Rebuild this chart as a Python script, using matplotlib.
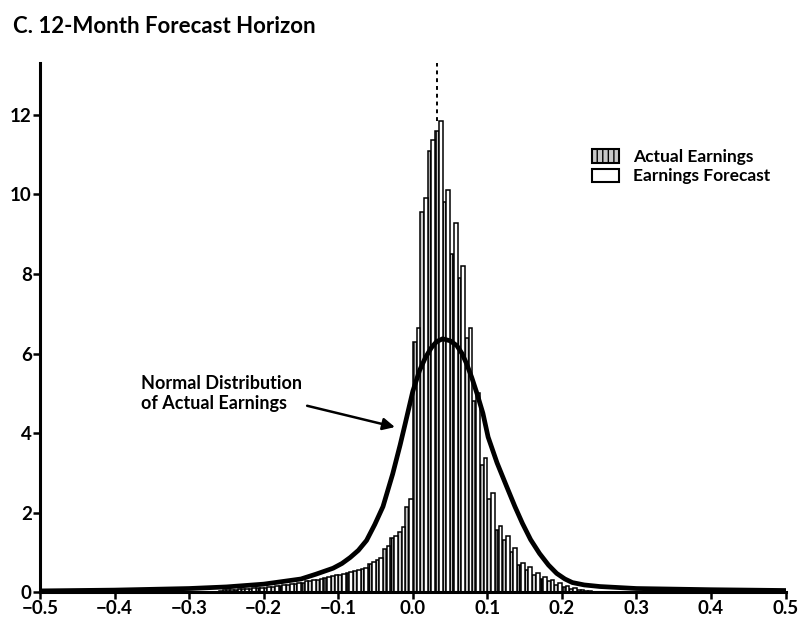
import numpy as np
import matplotlib.pyplot as plt
from matplotlib.patches import Patch

plt.rcParams['font.family'] = ['Lato', 'DejaVu Sans']

# histogram bins, width 0.01 (left edges)
bin_left = np.round(np.arange(-0.26, 0.235, 0.01), 2)

# bar heights
forecast = [0.05, 0.06, 0.07, 0.08, 0.10, 0.11, 0.12, 0.15, 0.17, 0.20,
            0.22, 0.27, 0.30, 0.33, 0.37, 0.42, 0.45, 0.50, 0.55, 0.60,
            0.75, 0.85, 1.15, 1.42, 1.63, 2.35, 6.65, 9.90, 11.37, 11.86,
            10.10, 9.27, 8.20, 6.65, 5.00, 3.37, 2.48, 1.67, 1.42, 1.10,
            0.72, 0.62, 0.47, 0.37, 0.30, 0.22, 0.15, 0.10, 0.06, 0.04]
actual = [0.04, 0.05, 0.06, 0.07, 0.08, 0.10, 0.11, 0.13, 0.15, 0.18,
          0.20, 0.24, 0.28, 0.31, 0.35, 0.40, 0.43, 0.47, 0.52, 0.58,
          0.70, 0.80, 1.08, 1.35, 1.50, 2.15, 6.30, 9.55, 11.10, 11.60,
          9.80, 8.50, 7.90, 6.40, 4.80, 3.20, 2.35, 1.55, 1.30, 1.00,
          0.68, 0.56, 0.43, 0.33, 0.27, 0.19, 0.13, 0.08, 0.05, 0.03]

# "normal distribution" curve
curve_x = [-0.5, -0.4, -0.3, -0.25, -0.2, -0.15, -0.13, -0.107, -0.095, -0.084,
           -0.073, -0.062, -0.051, -0.04, -0.027, -0.017, -0.01, -0.004, 0.0,
           0.009, 0.017, 0.025, 0.032, 0.04, 0.05, 0.059, 0.066, 0.072, 0.079,
           0.086, 0.094, 0.101, 0.113, 0.126, 0.137, 0.147, 0.158, 0.17, 0.182,
           0.193, 0.204, 0.214, 0.23, 0.251, 0.3, 0.4, 0.5]
curve_y = [0.03, 0.05, 0.09, 0.13, 0.20, 0.33, 0.45, 0.60, 0.72, 0.87,
           1.05, 1.30, 1.70, 2.15, 2.97, 3.70, 4.25, 4.73, 5.05,
           5.57, 5.90, 6.15, 6.30, 6.37, 6.32, 6.20, 6.00, 5.75, 5.40,
           5.00, 4.50, 3.90, 3.25, 2.65, 2.15, 1.73, 1.32, 0.97, 0.68,
           0.47, 0.33, 0.24, 0.18, 0.14, 0.09, 0.06, 0.04]

peak_x = 0.032
xticks = [-0.5, -0.4, -0.3, -0.2, -0.1, 0.0, 0.1, 0.2, 0.3, 0.4, 0.5]
yticks = [0, 2, 4, 6, 8, 10, 12]

fig = plt.figure(figsize=(8, 6.2), dpi=100)
ax = fig.add_axes([0.05, 0.045, 0.932, 0.853])

w = 0.005
ax.bar(bin_left + w / 2, actual, width=w, color='#c8c8c8', edgecolor='black',
       linewidth=1.1, hatch='|||', zorder=2)
ax.bar(bin_left + 1.5 * w, forecast, width=w, color='white', edgecolor='black',
       linewidth=1.1, zorder=2)

ax.plot(curve_x, curve_y, color='black', linewidth=3.4, solid_capstyle='round',
        solid_joinstyle='round', zorder=4)

ax.vlines(peak_x, max(forecast), 13.3, colors='black', linestyles=(0, (2, 2)),
          linewidth=1.4, zorder=3)

ax.annotate('Normal Distribution\nof Actual Earnings', xy=(-0.024, 4.15),
            xytext=(-0.365, 5.0), fontsize=13, fontweight='bold',
            ha='left', va='center', linespacing=1.2,
            arrowprops=dict(arrowstyle='-|>', color='black', lw=1.8,
                            mutation_scale=18, shrinkA=2, shrinkB=0,
                            relpos=(0.95, 0.25)))

ax.set_xlim(-0.5, 0.5)
ax.set_ylim(0, 13.3)
ax.set_xticks(xticks)
ax.set_xticklabels([f'{t:.1f}'.replace('-', '\u2212') for t in xticks])
ax.set_yticks(yticks)
for lab in ax.get_xticklabels() + ax.get_yticklabels():
    lab.set_fontweight('bold')
    lab.set_fontsize(13.5)
ax.tick_params(direction='out', length=5, width=1.8, pad=1)

for s in ['top', 'right']:
    ax.spines[s].set_visible(False)
for s in ['left', 'bottom']:
    ax.spines[s].set_linewidth(2.2)

handles = [Patch(facecolor='#c8c8c8', edgecolor='black', hatch='|||', linewidth=1.5),
           Patch(facecolor='white', edgecolor='black', linewidth=1.5)]
fig.legend(handles, ['Actual Earnings', 'Earnings Forecast'],
           loc='upper left', bbox_to_anchor=(0.72, 0.785), frameon=False,
           prop={'size': 12.5, 'weight': 'bold'}, handlelength=1.6,
           handleheight=0.8, labelspacing=0.2, handletextpad=0.8)

fig.text(0.016, 0.958, 'C. 12-Month Forecast Horizon', fontsize=16,
         fontweight='bold', ha='left', va='center')

fig.savefig('out.png', dpi=100)
